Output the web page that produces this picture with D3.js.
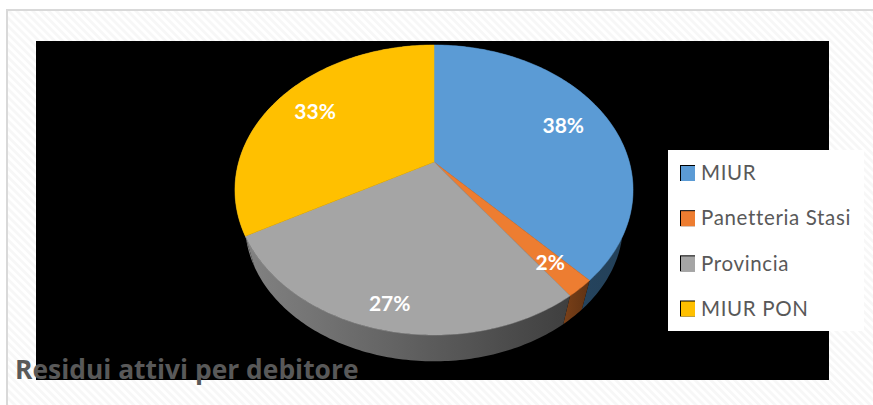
<!DOCTYPE html>
<meta charset="utf-8">
<style>
html, body { margin: 0; padding: 0; background: #fff; }
svg { display: block; }
text { font-family: Lato, "Open Sans", sans-serif; }
.label { fill: #fff; font-weight: 700; font-size: 21px; text-anchor: middle; }
.legend text { fill: #595959; font-size: 20.5px; letter-spacing: 0.65px; }
.title { fill: #595959; font-family: "Open Sans", Lato, sans-serif; font-weight: 700; font-size: 26.4px; }
</style>
<div id="chart"></div>
<script src="https://cdn.jsdelivr.net/npm/d3@7"></script>
<script>

var categories = ["MIUR", "Panetteria Stasi", "Provincia", "MIUR PON"];
var values = [38, 2, 27, 33];
var colors = ["#5b9bd5", "#ed7d31", "#a5a5a5", "#ffc000"];
var sideLight = ["#2a4d6c", "#7a4018", "#828282", "#828282"];
var sideDark = ["#234058", "#5f3213", "#3f3f3f", "#828282"];
var chartTitle = "Residui attivi per debitore";

var width = 873, height = 405;

var svg = d3.select("#chart").append("svg")
    .attr("width", width)
    .attr("height", height);

var defs = svg.append("defs");

// faint diagonal hatch of the chart area
var hatch = defs.append("pattern")
    .attr("id", "hatch")
    .attr("width", 5.6)
    .attr("height", 5.6)
    .attr("patternUnits", "userSpaceOnUse")
    .attr("patternTransform", "rotate(45)");
hatch.append("rect").attr("width", 5.6).attr("height", 5.6).attr("fill", "#fff");
hatch.append("rect").attr("width", 5.6).attr("height", 2.8).attr("fill", "#f7f7f7");

svg.append("rect")
    .attr("x", 7).attr("y", 10)
    .attr("width", width).attr("height", height)
    .attr("fill", "url(#hatch)")
    .attr("stroke", "#d9d9d9")
    .attr("stroke-width", 2);

svg.append("rect")
    .attr("x", 36).attr("y", 41)
    .attr("width", 793).attr("height", 339)
    .attr("fill", "#000");

// pie tilted in perspective: a circle seen from the front-top
var cx = 434, cy = 162, rx = 195.3, ry = 139.6, k = -0.193;
var depthScale = 0.95, depthShift = 35;

function project(angle, t) {
  var u = Math.sin(angle) * t,
      v = -Math.cos(angle) * t,
      w = 1 + k * v;
  return [cx + rx * u / w, cy + ry * v / w];
}

function lower(p) {
  return [cx + (p[0] - cx) * depthScale, cy + (p[1] - cy) * depthScale + depthShift];
}

function rimPoints(d) {
  var n = Math.max(4, Math.ceil((d.endAngle - d.startAngle) * 60));
  return d3.range(n + 1).map(function(i) {
    return project(d.startAngle + (d.endAngle - d.startAngle) * i / n, 1);
  });
}

var pie = d3.pie().sort(null).startAngle(0).endAngle(2 * Math.PI);
var arcs = pie(values);
var line = d3.line();

// side walls first, the top face goes over them
arcs.forEach(function(d, i) {
  var rim = rimPoints(d),
      all = rim.concat(rim.slice().reverse().map(lower)),
      xs = d3.extent(all, function(p) { return p[0]; });

  var grad = defs.append("linearGradient")
      .attr("id", "side" + i)
      .attr("gradientUnits", "userSpaceOnUse")
      .attr("x1", xs[0]).attr("x2", xs[1])
      .attr("y1", 0).attr("y2", 0);
  grad.append("stop").attr("offset", 0).attr("stop-color", sideLight[i]);
  grad.append("stop").attr("offset", 1).attr("stop-color", sideDark[i]);

  svg.append("path")
      .attr("d", line(all) + "Z")
      .attr("fill", "url(#side" + i + ")");
});

svg.selectAll(".slice")
  .data(arcs)
  .enter().append("path")
    .attr("class", "slice")
    .attr("d", function(d) { return line([[cx, cy]].concat(rimPoints(d))) + "Z"; })
    .attr("fill", function(d, i) { return colors[i]; })
    .attr("stroke", function(d, i) { return colors[i]; })
    .attr("stroke-width", 0.5);

var labelRadius = [0.75, 0.82, 0.87, 0.76];

svg.selectAll(".label")
  .data(arcs)
  .enter().append("text")
    .attr("class", "label")
    .attr("x", function(d, i) { return project((d.startAngle + d.endAngle) / 2, labelRadius[i])[0]; })
    .attr("y", function(d, i) { return project((d.startAngle + d.endAngle) / 2, labelRadius[i])[1]; })
    .attr("dy", "0.35em")
    .text(function(d) { return d.value + "%"; });

// legend box
var legendY = d3.scalePoint()
    .domain(categories)
    .range([173, 308.5]);

svg.append("rect")
    .attr("x", 668).attr("y", 150)
    .attr("width", 196).attr("height", 181)
    .attr("fill", "#fff");

var legend = svg.selectAll(".legend")
  .data(categories)
  .enter().append("g")
    .attr("class", "legend")
    .attr("transform", function(d) { return "translate(680," + legendY(d) + ")"; });

legend.append("rect")
    .attr("x", 0).attr("y", -8)
    .attr("width", 15).attr("height", 16)
    .attr("fill", "#000");

legend.append("rect")
    .attr("x", 1).attr("y", -7)
    .attr("width", 14).attr("height", 15)
    .attr("fill", function(d, i) { return colors[i]; });

legend.append("text")
    .attr("x", 21)
    .attr("dy", "0.35em")
    .text(function(d) { return d; });

svg.append("text")
    .attr("class", "title")
    .attr("x", 15)
    .attr("y", 379)
    .text(chartTitle);

</script>
